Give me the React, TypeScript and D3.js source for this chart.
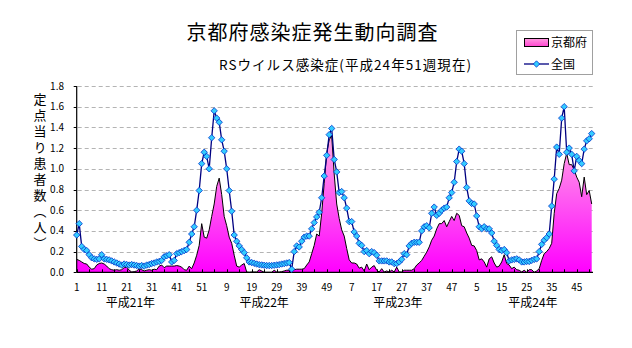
import React from 'react';
import * as d3 from 'd3';

const weekTickLabels = ['1','11','21','31','41','51','9','19','29','39','49','7','17','27','37','47','5','15','25','35','45'];
const yearLabels = ['平成21年','平成22年','平成23年','平成24年'];
const yTickValues = [0, 0.2, 0.4, 0.6, 0.8, 1.0, 1.2, 1.4, 1.6, 1.8];
const seriesNames = ['京都府', '全国'];

// 京都府 (weekly, 2009 wk1 .. 2012 wk51)
const kyoto = [
  0.125,0.115,0.10,0.085,0.08,0.05,0.03,0.035,0.07,0.085,
  0.09,0.08,0.06,0.035,0.025,0.02,0.025,0.02,0.025,0.045,
  0.05,0.02,0.003,0.006,0.013,0.035,0.025,0.013,0.02,0.025,
  0.02,0.03,0.025,0.06,0.07,0.045,0.06,0.06,0.06,0.06,
  0.065,0.06,0.05,0.025,0.02,0.06,0.035,0.09,0.165,0.26,
  0.47,0.34,0.33,0.41,0.54,0.66,0.83,0.91,0.75,0.54,
  0.45,0.34,0.28,0.165,0.06,0.05,0.07,0.085,0.003,0,
  0.003,0.003,0.003,0.025,0.013,0,0,0,0,0.02,
  0.003,0.003,0.006,0.013,0.02,0.02,0.03,0.025,0.03,0.03,
  0.03,0.035,0.07,0.10,0.18,0.26,0.37,0.35,0.57,0.86,
  1.15,1.28,1.32,0.95,0.66,0.52,0.41,0.35,0.23,0.12,
  0.09,0.09,0.08,0.04,0.05,0.013,0.08,0.025,0.05,0.065,
  0.02,0.003,0.035,0.003,0.013,0.003,0.02,0.003,0.05,0.003,
  0.003,0.02,0.02,0.02,0.02,0.035,0.07,0.09,0.115,0.155,
  0.195,0.245,0.31,0.35,0.42,0.47,0.47,0.50,0.44,0.49,
  0.54,0.50,0.57,0.55,0.45,0.44,0.38,0.33,0.26,0.255,
  0.21,0.12,0.13,0.10,0.05,0.13,0.15,0.09,0.05,0.06,
  0.10,0.17,0.085,0.07,0.035,0.05,0.025,0.02,0.003,0.02,
  0,0.025,0.025,0,0.013,0.035,0.115,0.18,0.20,0.23,
  0.28,0.57,0.76,0.81,0.89,1.05,1.15,1.04,1.04,0.99,
  0.92,0.87,0.73,0.92,0.75,0.79,0.66
];

// 全国
const national = [
  0.36,0.47,0.25,0.22,0.21,0.17,0.14,0.13,0.125,0.13,
  0.17,0.13,0.125,0.12,0.11,0.10,0.09,0.08,0.07,0.08,
  0.075,0.07,0.075,0.07,0.065,0.06,0.065,0.06,0.07,0.075,
  0.085,0.09,0.10,0.105,0.115,0.15,0.16,0.17,0.10,0.115,
  0.18,0.19,0.20,0.21,0.22,0.29,0.37,0.44,0.60,0.79,
  1.05,1.16,1.12,1.00,1.30,1.56,1.49,1.45,1.28,1.17,
  1.00,0.79,0.59,0.36,0.30,0.255,0.22,0.19,0.14,0.10,
  0.094,0.087,0.08,0.074,0.071,0.068,0.065,0.065,0.065,0.068,
  0.071,0.074,0.08,0.084,0.09,0.094,0.03,0.20,0.255,0.245,
  0.30,0.34,0.35,0.35,0.42,0.48,0.535,0.58,0.72,0.93,
  1.13,1.33,1.39,1.09,0.97,0.77,0.78,0.72,0.62,0.49,
  0.49,0.39,0.35,0.28,0.26,0.20,0.21,0.18,0.20,0.19,
  0.165,0.11,0.11,0.11,0.11,0.10,0.10,0.084,0.084,0.10,
  0.125,0.18,0.17,0.255,0.28,0.29,0.29,0.29,0.40,0.44,
  0.45,0.43,0.57,0.63,0.55,0.57,0.60,0.62,0.63,0.72,
  0.77,0.87,1.07,1.19,1.17,1.05,0.82,0.69,0.665,0.66,
  0.545,0.44,0.42,0.44,0.42,0.42,0.38,0.30,0.26,0.22,
  0.21,0.22,0.19,0.11,0.12,0.125,0.13,0.12,0.10,0.10,
  0.105,0.105,0.115,0.125,0.13,0.20,0.27,0.31,0.335,0.37,
  0.64,0.90,1.21,1.14,1.49,1.60,1.16,1.20,1.14,0.98,
  1.12,1.08,1.05,1.19,1.27,1.29,1.34
];

// layout: year label centres (in week-index units)
const yearLabelCentreIdx = [21.5, 75, 128.5, 182.5];
const yAxisTitle = '定点当り患者数（人）';

const FONT = '"MS PGothic","Noto Sans CJK JP",sans-serif';

export default function App() {
  const W = 632, H = 348;
  const n = national.length;
  const x = d3.scaleLinear().domain([0, n - 1]).range([76.7, 591.7]);
  const y = d3.scaleLinear().domain([0, 1.8]).range([272.3, 86]);
  const plotL = 76.7, plotR = 593, plotT = 86, plotB = 272.3;

  const area = d3.area<number>().x((_, i) => x(i)).y0(y(0)).y1(d => y(d));
  const topLine = d3.line<number>().x((_, i) => x(i)).y(d => y(d));
  const natLine = d3.line<number>().x((_, i) => x(i)).y(d => y(d));
  const diamond = 'M0,-3.2L3.2,0L0,3.2L-3.2,0Z';

  const tickIdx = d3.range(0, n, 5);

  return (
    <svg width={W} height={H} style={{ position: 'absolute', left: 0, top: 0, background: '#fff' }}
      fontFamily={FONT}>
      <defs>
        <linearGradient id="kyotoGrad" gradientUnits="userSpaceOnUse" x1="0" y1={y(1.3)} x2="0" y2={y(0)}>
          <stop offset="0" stopColor="#FFA6E6" />
          <stop offset="1" stopColor="#FF00FF" />
        </linearGradient>
        <linearGradient id="legGrad" x1="0" y1="0" x2="0" y2="1">
          <stop offset="0" stopColor="#FF99E0" />
          <stop offset="1" stopColor="#FF44D0" />
        </linearGradient>
      </defs>
      <rect x={0} y={0} width={W} height={H} fill="#fff" />

      {/* titles */}
      <text x={312} y={40} textAnchor="middle" fontSize={20} textLength={251} lengthAdjust="spacing" fill="#000">京都府感染症発生動向調査</text>
      <text x={345} y={70} textAnchor="middle" fontSize={13.5} textLength={252} lengthAdjust="spacing" fill="#000">RSウイルス感染症(平成24年51週現在)</text>

      {/* gridlines */}
      {yTickValues.filter(v => v > 0).map(v => (
        <line key={v} x1={plotL + 1} x2={plotR} y1={Math.round(y(v)) + 0.5} y2={Math.round(y(v)) + 0.5}
          stroke="#B4B4B4" strokeWidth={1} strokeDasharray="4,3" />
      ))}

      {/* Kyoto area */}
      <path d={area(kyoto) || ''} fill="url(#kyotoGrad)" />
      <path d={topLine(kyoto) || ''} fill="none" stroke="#000" strokeWidth={1} />

      {/* axes */}
      <line x1={plotL} x2={plotL} y1={plotT} y2={plotB} stroke="#000" strokeWidth={1.2} />
      <line x1={plotL} x2={plotR} y1={plotB} y2={plotB} stroke="#000" strokeWidth={1.2} />
      {yTickValues.map(v => (
        <g key={v}>
          <line x1={plotL - 3} x2={plotL} y1={Math.round(y(v)) + 0.5} y2={Math.round(y(v)) + 0.5} stroke="#000" />
          <text x={64} y={y(v) + 3.5} textAnchor="end" fontSize={10} fill="#000">{v.toFixed(1)}</text>
        </g>
      ))}
      {tickIdx.map(i => (
        <line key={i} x1={Math.round(x(i)) + 0.5} x2={Math.round(x(i)) + 0.5} y1={plotB - 3} y2={plotB} stroke="#000" />
      ))}
      {weekTickLabels.map((t, k) => (
        <text key={k} x={x(k * 10)} y={290.5} textAnchor="middle" fontSize={10} fill="#000">{t}</text>
      ))}
      {yearLabels.map((t, k) => (
        <text key={t} x={x(yearLabelCentreIdx[k])} y={307} textAnchor="middle" fontSize={12} fill="#000">{t}</text>
      ))}

      {/* y axis title (vertical) */}
      <text x={40} y={93} fontSize={13} letterSpacing={2.9} fill="#000"
        style={{ writingMode: 'vertical-rl' as any }}>{yAxisTitle}</text>

      {/* national line */}
      <path d={natLine(national) || ''} fill="none" stroke="#000080" strokeWidth={1.3} />
      {national.map((v, i) => (
        <path key={i} d={diamond} transform={`translate(${x(i)},${y(v)})`} fill="#33CCFF" stroke="#0033CC" strokeWidth={0.8} />
      ))}

      {/* legend */}
      <rect x={516.5} y={30.5} width={76} height={44} fill="#fff" stroke="#A0A0A0" />
      <rect x={524.5} y={38.5} width={24} height={8} fill="url(#legGrad)" stroke="#000" />
      <text x={551} y={46.5} fontSize={12} fill="#000">{seriesNames[0]}</text>
      <line x1={524} x2={549} y1={64} y2={64} stroke="#000080" strokeWidth={1.3} />
      <path d={diamond} transform="translate(536.5,64)" fill="#33CCFF" stroke="#0033CC" strokeWidth={0.8} />
      <text x={551} y={68.5} fontSize={12} fill="#000">{seriesNames[1]}</text>
    </svg>
  );
}
